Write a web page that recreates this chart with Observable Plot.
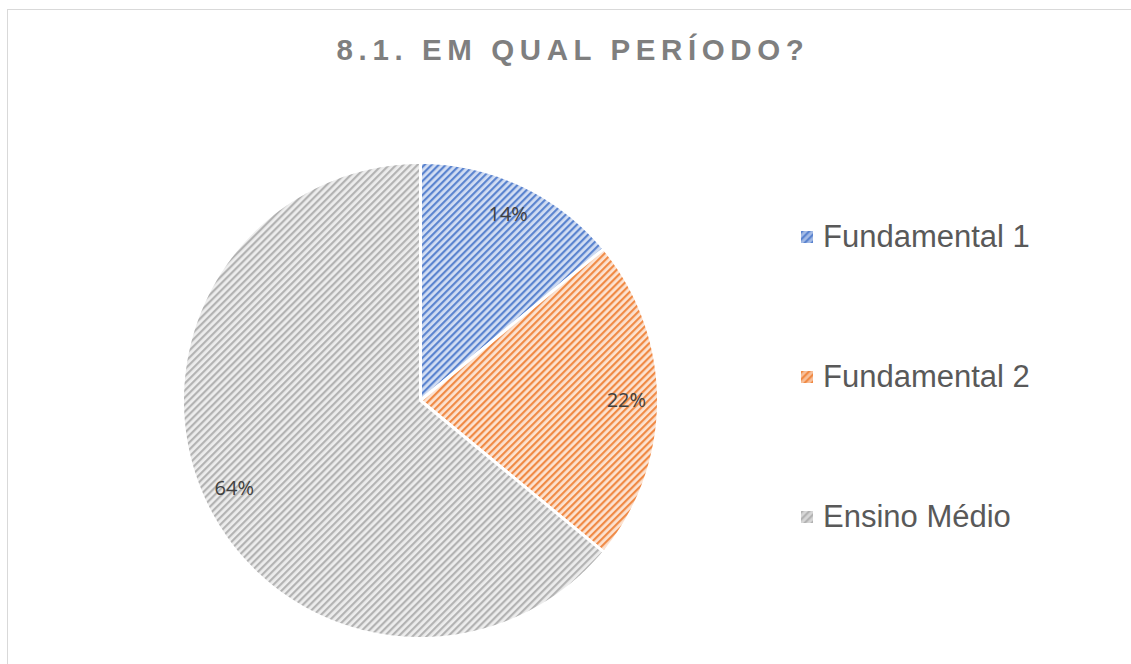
<!DOCTYPE html>
<html>
<head>
<meta charset="utf-8">
<script src="https://cdn.jsdelivr.net/npm/d3@7"></script>
<script src="https://cdn.jsdelivr.net/npm/@observablehq/plot@0.6"></script>
<style>
  html, body { margin: 0; padding: 0; background: #fff; }
  #wrap { position: relative; width: 1131px; height: 664px; overflow: hidden; background: #fff; }
  #frame { position: absolute; left: 7px; top: 9px; width: 1200px; height: 800px;
           border-top: 1.5px solid #d9d9d9; border-left: 1.5px solid #d9d9d9; }
  #title { position: absolute; left: 0; width: 1146px; top: 35px; text-align: center;
           font-family: "Liberation Sans", Arial, sans-serif; font-weight: bold; font-size: 29.5px;
           line-height: 1; letter-spacing: 5.6px; color: #7f7f7f; white-space: nowrap; }
  #chart { position: absolute; left: 0; top: 0; }
  .leg { position: absolute; left: 801px; font-family: "Liberation Sans", Arial, sans-serif;
         font-size: 31px; line-height: 1; color: #595959; white-space: nowrap; }
  .leg svg { position: absolute; left: 0; }
  .leg span { position: absolute; left: 22px; }
</style>
</head>
<body>
<svg width="0" height="0" style="position:absolute">
  <defs id="pdefs"></defs>
</svg>
<div id="wrap">
  <div id="frame"></div>
  <div id="chart"></div>
  <div id="title">8.1. EM QUAL PERÍODO?</div>
  <div id="legend"></div>
</div>
<script>
const categories = ["Fundamental 1", "Fundamental 2", "Ensino Médio"];
const values = [14, 22, 64];
const labels = ["14%", "22%", "64%"];
const lineColors = ["#5b84cf", "#f08a45", "#b3b3b3"];
const bgColors = ["#d3def3", "#fce3d2", "#ededed"];

// patterns (wide upward diagonal)
const defs = document.getElementById("pdefs");
const ns = "http://www.w3.org/2000/svg";
categories.forEach((c, i) => {
  const p = document.createElementNS(ns, "pattern");
  p.setAttribute("id", "pat" + i);
  p.setAttribute("patternUnits", "userSpaceOnUse");
  p.setAttribute("width", "5");
  p.setAttribute("height", "5");
  p.setAttribute("patternTransform", "rotate(45)");
  const r = document.createElementNS(ns, "rect");
  r.setAttribute("width", "5"); r.setAttribute("height", "5"); r.setAttribute("fill", bgColors[i]);
  const l = document.createElementNS(ns, "rect");
  l.setAttribute("width", "2.2"); l.setAttribute("height", "5"); l.setAttribute("fill", lineColors[i]);
  p.appendChild(r); p.appendChild(l);
  defs.appendChild(p);
});

// pie geometry from values (angles clockwise from top)
const total = d3.sum(values);
let acc = 0;
const slices = values.map((v, i) => {
  const a0 = acc / total * 2 * Math.PI;
  acc += v;
  const a1 = acc / total * 2 * Math.PI;
  return { cat: categories[i], i, a0, a1, label: labels[i] };
});
const poly = [];
slices.forEach(s => {
  poly.push({ cat: s.cat, x: 0, y: 0 });
  const n = Math.max(2, Math.ceil((s.a1 - s.a0) / (Math.PI / 360)));
  for (let k = 0; k <= n; k++) {
    const a = s.a0 + (s.a1 - s.a0) * k / n;
    poly.push({ cat: s.cat, x: Math.sin(a), y: Math.cos(a) });
  }
  poly.push({ cat: s.cat, x: 0, y: 0 });
});
const labelR = 0.865;
const labelData = slices.map(s => {
  const m = (s.a0 + s.a1) / 2;
  return { x: labelR * Math.sin(m), y: labelR * Math.cos(m), text: s.label };
});

const marks = slices.map(s =>
  Plot.line(poly.filter(d => d.cat === s.cat), {
    x: "x", y: "y", fill: `url(#pat${s.i})`, stroke: "white", strokeWidth: 3, curve: "linear"
  })
);
marks.push(Plot.text(labelData, {
  x: "x", y: "y", text: "text", fill: "#404040", fontSize: 20,
  fontFamily: "'Open Sans', 'Liberation Sans', sans-serif"
}));

const chart = Plot.plot({
  width: 1131, height: 664,
  margin: 0,
  x: { domain: [-1, 1], range: [182, 658], axis: null },
  y: { domain: [-1, 1], range: [638, 162], axis: null },
  style: { background: "transparent", overflow: "visible" },
  marks
});
document.getElementById("chart").appendChild(chart);

// legend
const legend = document.getElementById("legend");
categories.forEach((c, i) => {
  const row = document.createElement("div");
  row.className = "leg";
  row.style.top = (221 + i * 140) + "px";
  row.innerHTML = `<svg width="12" height="12" style="top:10px"><rect width="12" height="12" fill="${lineColors[i]}"/><rect width="12" height="12" fill="url(#pat${i})" opacity="0.6"/></svg><span>${c}</span>`;
  legend.appendChild(row);
});
</script>
</body>
</html>
